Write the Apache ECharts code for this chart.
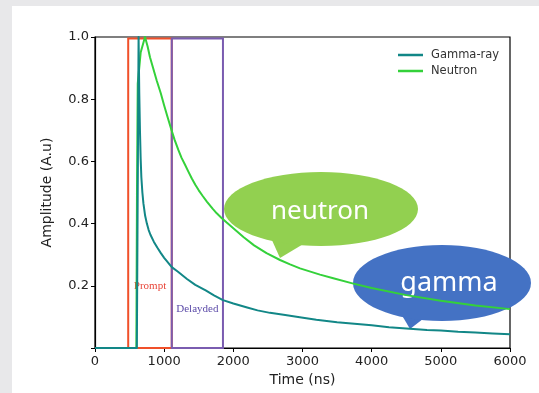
<!DOCTYPE html>
<html lang="en">
<head>
    <meta charset="UTF-8">
    <title>Gamma / Neutron pulse</title>
    <script src='https://cdn.jsdelivr.net/npm/echarts@6/dist/echarts.min.js'></script>
</head>
<body style="margin: 0; background: #e8e8ea">
<div style="position: absolute; left: 12px; top: 6px; right: 0; bottom: 0; background: #ffffff"></div>
<div id="chart" style="position: absolute; left: 0; top: 0; width: 539px; height: 393px"></div>

<script>
    // pulse shapes
    let gammaTime = [0, 605, 630, 640, 650, 660, 670, 685, 700, 725, 750, 775, 800, 850, 900, 950,
                     1000, 1110, 1200, 1330, 1450, 1600, 1720, 1850, 2000, 2200, 2350, 2530, 2750,
                     2960, 3200, 3500, 3750, 4000, 4250, 4550, 4800, 5000, 5250, 5500, 5750, 6000];
    let gammaAmp = [0, 0, 1.0, 0.82, 0.7, 0.61, 0.55, 0.5, 0.465, 0.425, 0.4, 0.38, 0.365, 0.342, 0.323, 0.306,
                    0.29, 0.26, 0.245, 0.222, 0.203, 0.185, 0.169, 0.154, 0.143, 0.13, 0.121, 0.113, 0.106,
                    0.099, 0.091, 0.083, 0.078, 0.073, 0.067, 0.062, 0.058, 0.056, 0.052, 0.05, 0.047, 0.044];

    let neutronTime = [0, 598, 607, 618, 660, 723, 760, 795, 840, 892, 950, 1000, 1050, 1100, 1150,
                       1205, 1250, 1300, 1350, 1400, 1450, 1500, 1560, 1620, 1700, 1760, 1830, 1900,
                       2000, 2150, 2300, 2480, 2675, 2820, 2964, 3253, 3445, 3735, 4000, 4500, 5000,
                       5500, 6000];
    let neutronAmp = [0, 0, 0.5, 0.85, 0.95, 1.0, 0.97, 0.935, 0.9, 0.86, 0.82, 0.78, 0.742, 0.705, 0.67,
                      0.637, 0.612, 0.59, 0.567, 0.545, 0.525, 0.507, 0.488, 0.47, 0.448, 0.433, 0.418, 0.404,
                      0.385, 0.356, 0.33, 0.305, 0.283, 0.269, 0.256, 0.236, 0.224, 0.207, 0.193, 0.17, 0.152,
                      0.137, 0.125];

    // integration windows (ns)
    let promptWindow = [480, 1110];
    let delayedWindow = [1110, 1850];
    let windowTop = 0.995;

    let xTicks = [0, 1000, 2000, 3000, 4000, 5000, 6000];
    let yTicks = [0.2, 0.4, 0.6, 0.8, 1.0];

    function pairs(xs, ys) {
        return xs.map((x, i) => [x, ys[i]]);
    }

    let chart = echarts.init(document.getElementById('chart'), null, {renderer: 'canvas'});

    let axisFont = {fontFamily: 'DejaVu Sans', fontSize: 13, color: '#222'};

    let option = {
        animation: false,
        grid: {
            left: 95, right: 29, top: 37, bottom: 45,
            show: true, borderColor: '#000', borderWidth: 1.2, backgroundColor: 'transparent'
        },
        legend: {
            orient: 'vertical',
            left: 393, top: 44,
            icon: 'rect',
            itemWidth: 25, itemHeight: 2.5,
            itemGap: 4,
            textStyle: {fontFamily: 'DejaVu Sans', fontSize: 11.5, color: '#333', padding: [0, 0, 0, 3]},
            data: ['Gamma-ray', 'Neutron']
        },
        xAxis: {
            type: 'value',
            min: xTicks[0], max: xTicks[xTicks.length - 1], interval: 1000,
            splitLine: {show: false},
            axisLine: {lineStyle: {color: '#000', width: 1.2}},
            axisTick: {lineStyle: {color: '#000'}, length: 4},
            axisLabel: Object.assign({margin: 7, formatter: v => String(v)}, axisFont),
            name: 'Time (ns)',
            nameLocation: 'middle',
            nameGap: 25,
            nameTextStyle: {fontFamily: 'DejaVu Sans', fontSize: 14, color: '#222'}
        },
        yAxis: {
            type: 'value',
            min: 0, max: yTicks[yTicks.length - 1], interval: 0.2,
            splitLine: {show: false},
            axisLine: {lineStyle: {color: '#000', width: 1.2}},
            axisTick: {lineStyle: {color: '#000'}, length: 4},
            axisLabel: Object.assign({
                margin: 6,
                formatter: v => (v === 0 ? '' : v.toFixed(1))
            }, axisFont),
            name: 'Amplitude (A.u)',
            nameLocation: 'middle',
            nameGap: 41,
            nameTextStyle: {fontFamily: 'DejaVu Sans', fontSize: 14, color: '#222'}
        },
        series: [
            {
                name: 'Gamma-ray',
                type: 'line',
                showSymbol: false,
                data: pairs(gammaTime, gammaAmp),
                color: '#128787',
                lineStyle: {width: 2, join: 'round'},
                z: 3,
                markArea: {
                    silent: true,
                    data: [
                        [
                            {
                                xAxis: promptWindow[0], yAxis: windowTop,
                                itemStyle: {color: 'rgba(0,0,0,0)', borderColor: '#f0502a', borderWidth: 2},
                                label: {
                                    show: true, position: 'insideBottom', distance: 57,
                                    formatter: 'Prompt', color: '#e8463a',
                                    fontFamily: 'Liberation Serif', fontSize: 11
                                }
                            },
                            {xAxis: promptWindow[1], yAxis: 0}
                        ],
                        [
                            {
                                xAxis: delayedWindow[0], yAxis: windowTop,
                                itemStyle: {color: 'rgba(0,0,0,0)', borderColor: '#7a5cb0', borderWidth: 2},
                                label: {
                                    show: true, position: 'insideBottom', distance: 34,
                                    formatter: 'Delayded', color: '#5b4aa8',
                                    fontFamily: 'Liberation Serif', fontSize: 11
                                }
                            },
                            {xAxis: delayedWindow[1], yAxis: 0}
                        ]
                    ]
                }
            },
            {
                name: 'Neutron',
                type: 'line',
                showSymbol: false,
                data: pairs(neutronTime, neutronAmp),
                color: '#34d13a',
                lineStyle: {width: 2, join: 'round'},
                z: 2
            }
        ],
        graphic: [
            {
                type: 'group', z: 100,
                children: [
                    {type: 'polygon', shape: {points: [[271, 238], [280, 258], [310, 240]]}, style: {fill: '#92d050'}},
                    {type: 'ellipse', shape: {cx: 321, cy: 209, rx: 97, ry: 37}, style: {fill: '#92d050'}},
                    {
                        type: 'text', x: 320, y: 212,
                        style: {text: 'neutron', fill: '#fff', font: '26px "Noto Sans"', align: 'center', verticalAlign: 'middle'}
                    }
                ]
            },
            {
                type: 'group', z: 100,
                children: [
                    {type: 'polygon', shape: {points: [[400, 312], [410, 329], [432, 312]]}, style: {fill: '#4472c4'}},
                    {type: 'ellipse', shape: {cx: 442, cy: 283, rx: 89, ry: 38}, style: {fill: '#4472c4'}},
                    {
                        type: 'text', x: 449, y: 283,
                        style: {text: 'gamma', fill: '#fff', font: '27px "Noto Sans"', align: 'center', verticalAlign: 'middle'}
                    }
                ]
            }
        ]
    };

    chart.setOption(option);
</script>
</body>
</html>
